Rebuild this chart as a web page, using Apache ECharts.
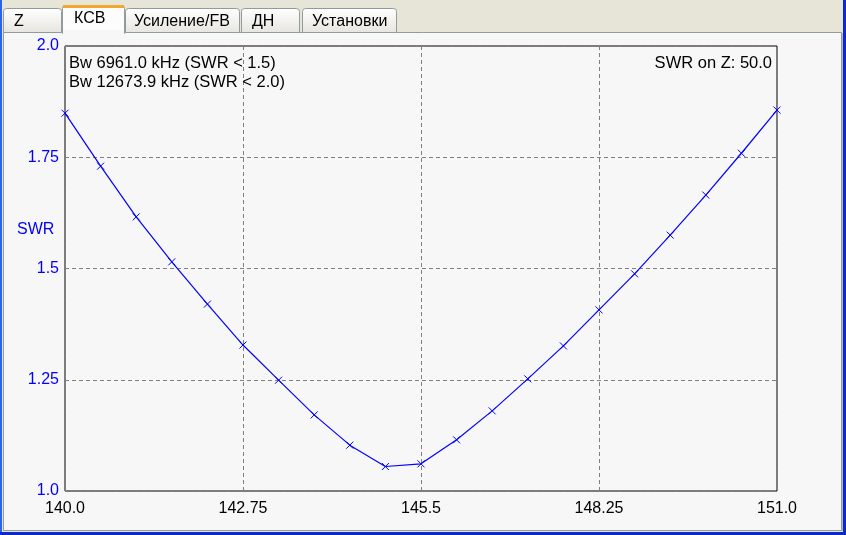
<!DOCTYPE html>
<html>
<head>
<meta charset="utf-8">
<script src="https://cdn.jsdelivr.net/npm/echarts@6/dist/echarts.min.js"></script>
<style>
html,body{margin:0;padding:0;background:#E6E5D7;}
#chart{width:846px;height:535px;}
</style>
</head>
<body>
<div id="chart"></div>
<script>
// ---- data ----
var freqMHz = [140.0, 140.55, 141.1, 141.65, 142.2, 142.75, 143.3, 143.85, 144.4, 144.95, 145.5,
               146.05, 146.6, 147.15, 147.7, 148.25, 148.8, 149.35, 149.9, 150.45, 151.0];
var swrValues = [1.849, 1.730, 1.616, 1.515, 1.420, 1.328, 1.249, 1.171, 1.103, 1.055, 1.061,
                 1.115, 1.180, 1.252, 1.326, 1.407, 1.488, 1.575, 1.665, 1.759, 1.856];
var xTickLabels = ['140.0', '142.75', '145.5', '148.25', '151.0'];
var yTickLabels = ['1.0', '1.25', '1.5', '1.75', '2.0'];
var tabNames = ['Z', 'КСВ', 'Усиление/FB', 'ДН', 'Установки'];
var infoLines = ['Bw 6961.0 kHz (SWR < 1.5)', 'Bw 12673.9 kHz (SWR < 2.0)'];
var infoRight = 'SWR on Z: 50.0';
var yName = 'SWR';

var xStart = 140.0, xEnd = 151.0, xStep = 2.75;

var FONT = '"Liberation Sans", Arial, sans-serif';
var seriesData = freqMHz.map(function (f, i) { return [f - xStart, swrValues[i]]; });

// tab geometry (UI chrome)
var tabs = [
  {x: 3, w: 58, tx: 14},
  {x: 62, w: 62, tx: 74},
  {x: 125, w: 114, tx: 134},
  {x: 241, w: 58, tx: 252},
  {x: 302, w: 94, tx: 312}
];
var selected = 1;

var graphics = [];
// panel
graphics.push({type: 'rect', z: -10, shape: {x: 3.5, y: 32.5, width: 838, height: 498},
  style: {fill: '#F7F7F7', stroke: '#919B9C', lineWidth: 1}});
graphics.push({type: 'line', z: -9, shape: {x1: 842.5, y1: 33, x2: 842.5, y2: 531},
  style: {stroke: '#B5B5AD', lineWidth: 1}});
// tabs
tabs.forEach(function (t, i) {
  var sel = i === selected;
  var top = sel ? 5 : 8;
  graphics.push({type: 'rect', z: -8, shape: {x: t.x + 0.5, y: top + 0.5, width: t.w, height: (sel ? 28 : 24), r: [3, 3, 0, 0]},
    style: {fill: sel ? '#FCFCFC' : {type: 'linear', x: 0, y: 0, x2: 0, y2: 1,
      colorStops: [{offset: 0, color: '#FFFFFF'}, {offset: 1, color: '#E6E5DE'}]},
      stroke: '#919B9C', lineWidth: 1}});
  if (sel) {
    graphics.push({type: 'rect', z: -7, shape: {x: t.x + 1, y: 5, width: t.w - 1, height: 3},
      style: {fill: '#F0A830'}});
    graphics.push({type: 'rect', z: -7, shape: {x: t.x + 1, y: 30, width: t.w - 1, height: 4},
      style: {fill: '#F7F7F7'}});
  }
  graphics.push({type: 'text', z: -6, x: t.tx, y: sel ? 19 : 21.5,
    style: {text: tabNames[i], font: '16px ' + FONT, fill: '#000000', textAlign: 'left', textVerticalAlign: 'middle'}});
});
// window borders
graphics.push({type: 'rect', z: 50, shape: {x: 0, y: 0, width: 2, height: 535}, style: {fill: '#2A62E8'}});
graphics.push({type: 'rect', z: 50, shape: {x: 843, y: 0, width: 3, height: 535}, style: {fill: '#0A2AD0'}});
graphics.push({type: 'rect', z: 50, shape: {x: 0, y: 532, width: 846, height: 3}, style: {fill: '#0A2AC8'}});
// texts inside plot
infoLines.forEach(function (s, i) {
  graphics.push({type: 'text', z: 20, x: 69, y: 55 + i * 18.5,
    style: {text: s, font: '16.5px ' + FONT, fill: '#000000', textAlign: 'left', textVerticalAlign: 'top'}});
});
graphics.push({type: 'text', z: 20, x: 772, y: 55,
  style: {text: infoRight, font: '16.5px ' + FONT, fill: '#000000', textAlign: 'right', textVerticalAlign: 'top'}});
graphics.push({type: 'text', z: 20, x: 17, y: 230,
  style: {text: yName, font: '16px ' + FONT, fill: '#0000FF', textAlign: 'left', textVerticalAlign: 'middle'}});

var chart = echarts.init(document.getElementById('chart'), null, {renderer: 'canvas'});
chart.setOption({
  animation: false,
  backgroundColor: '#E6E5D7',
  graphic: {elements: graphics},
  grid: {left: 65, right: 69, top: 46, bottom: 44, show: true,
    backgroundColor: 'transparent', borderColor: '#000000', borderWidth: 1},
  xAxis: {
    type: 'value', min: 0, max: xEnd - xStart, interval: xStep,
    axisLine: {show: false}, axisTick: {show: false},
    axisLabel: {color: '#000000', fontFamily: FONT, fontSize: 16, margin: 10,
      formatter: function (v) { var i = Math.round(v / xStep); return xTickLabels[i] || ''; }},
    splitLine: {show: true, lineStyle: {color: '#808080', type: [4, 3], width: 1}}
  },
  yAxis: {
    type: 'value', min: 1, max: 2, interval: 0.25,
    axisLine: {show: false}, axisTick: {show: false},
    axisLabel: {color: '#0000FF', fontFamily: FONT, fontSize: 16, margin: 6,
      formatter: function (v) { var i = Math.round((v - 1) / 0.25); return yTickLabels[i] || ''; }},
    splitLine: {show: true, lineStyle: {color: '#808080', type: [4, 3], width: 1}}
  },
  series: [{
    type: 'line',
    data: seriesData,
    clip: true,
    showSymbol: true,
    showAllSymbol: true,
    symbol: 'path://M0,0L10,10M0,10L10,0',
    symbolSize: 7,
    itemStyle: {color: 'none', borderColor: '#0000FF', borderWidth: 1},
    lineStyle: {color: '#0000FF', width: 1.2},
    emphasis: {disabled: true},
    z: 5
  }]
});
</script>
</body>
</html>
